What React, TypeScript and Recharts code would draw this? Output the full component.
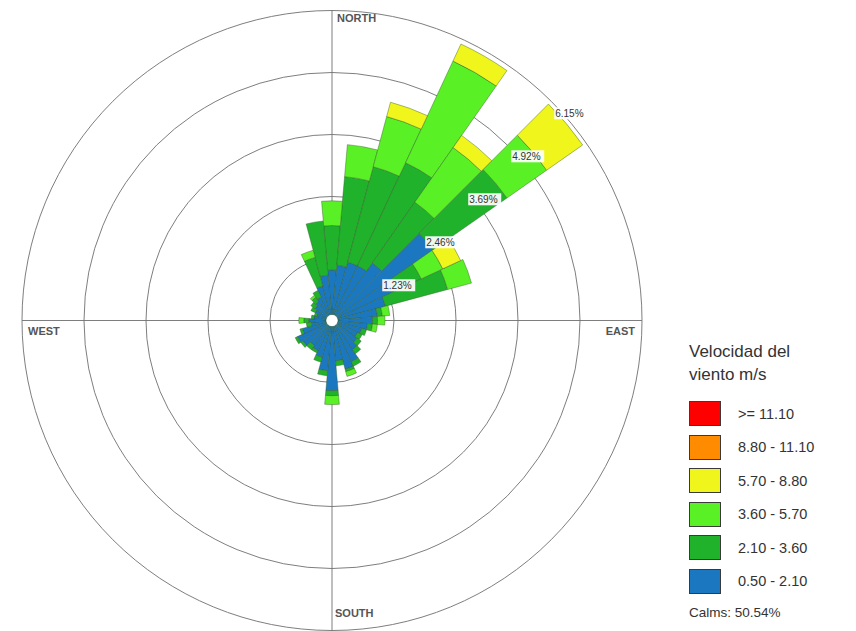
import React from 'react';
import {
  RadialBarChart,
  RadialBar,
  PolarGrid,
  PolarAngleAxis,
  PolarRadiusAxis,
  Legend,
  Sector,
} from 'recharts';

// Wind directions (bearing, degrees clockwise from north), 10° sectors
const DIRECTIONS = [
  '0', '10', '20', '30', '40', '50', '60', '70', '80', '90', '100', '110',
  '120', '130', '140', '150', '160', '170', '180', '190', '200', '210', '220', '230',
  '240', '250', '260', '270', '280', '290', '300', '310', '320', '330', '340', '350',
];

// Frequency (%) contributed by each speed class, per direction
const BLUE = [
  0.9, 1.0, 1.1, 1.1, 1.3, 2.37, 1.3, 1.0, 0.8, 0.7, 0.6, 0.5,
  0.45, 0.5, 0.6, 0.8, 0.9, 0.7, 1.3, 0.9, 0.65, 0.55, 0.5, 0.6,
  0.65, 0.5, 0.3, 0.35, 0.25, 0.2, 0.25, 0.3, 0.35, 0.4, 0.6, 0.8,
];
const DARK_GREEN = [
  0.9, 1.8, 2.0, 2.3, 1.5, 1.83, 0.57, 1.3, 0.1, 0.1, 0.1, 0.1,
  0.1, 0.1, 0.1, 0.1, 0.05, 0.1, 0.1, 0.1, 0.1, 0.05, 0.1, 0.05,
  0.05, 0.05, 0.1, 0.1, 0.05, 0.05, 0.1, 0.1, 0.1, 0.15, 0.6, 1.1,
];
const LIGHT_GREEN = [
  0.5, 0.65, 1.05, 2.27, 1.35, 0.98, 0.48, 0.5, 0.15, 0.15, 0.1, 0,
  0, 0, 0, 0, 0.1, 0, 0.18, 0, 0, 0, 0, 0,
  0, 0, 0, 0.1, 0, 0, 0, 0, 0.05, 0, 0.15, 0,
];
const YELLOW = [
  0, 0, 0.3, 0.38, 0.3, 0.89, 0.4, 0, 0, 0, 0, 0,
  0, 0, 0, 0, 0, 0, 0, 0, 0, 0, 0, 0,
  0, 0, 0, 0, 0, 0, 0, 0, 0, 0, 0, 0,
];
const ORANGE = new Array(36).fill(0);
const RED = new Array(36).fill(0);

// Speed classes (legend top→bottom)
const SPEED_LABELS = ['>= 11.10', '8.80 - 11.10', '5.70 - 8.80', '3.60 - 5.70', '2.10 - 3.60', '0.50 - 2.10'];
const SPEED_KEYS = ['red', 'orange', 'yellow', 'lgreen', 'dgreen', 'blue'];
const SPEED_COLORS = ['#ff0000', '#ff8c00', '#f0f51c', '#5af026', '#21b22c', '#1b78c0'];
const LEGEND_TITLE = ['Velocidad del', 'viento m/s'];
const CALMS_LABEL = 'Calms: 50.54%';

const RING_TICKS = [1.23, 2.46, 3.69, 4.92, 6.15];
const CARDINALS: Record<string, string> = { '0': 'NORTH', '90': 'EAST', '180': 'SOUTH', '270': 'WEST' };

const data = DIRECTIONS.map((d, i) => ({
  dir: d,
  blue: BLUE[i],
  dgreen: DARK_GREEN[i],
  lgreen: LIGHT_GREEN[i],
  yellow: YELLOW[i],
  orange: ORANGE[i],
  red: RED[i],
}));

const CX = 332;
const CY = 320.5;
const R = 310;
const HOLE = 6;
const RING_PX = [62, 124, 186, 248, 310];

const colorOf = (key: string) => SPEED_COLORS[SPEED_KEYS.indexOf(key)];
const STACK_ORDER = ['blue', 'dgreen', 'lgreen', 'yellow', 'orange', 'red'];

const PetalShape = (props: any) => {
  if (!props || props.outerRadius - props.innerRadius < 0.3) return <g />;
  return (
    <Sector
      cx={props.cx}
      cy={props.cy}
      innerRadius={props.innerRadius}
      outerRadius={props.outerRadius}
      startAngle={props.startAngle}
      endAngle={props.endAngle}
      fill={props.fill}
      stroke="#2d5a22"
      strokeWidth={0.6}
      strokeOpacity={0.7}
    />
  );
};

const CardinalTick = (props: any) => {
  const v = props?.payload?.value;
  const label = CARDINALS[String(v)];
  if (!label) return <g />;
  const common = { fontSize: 11, fontFamily: 'Liberation Sans, Arial, sans-serif', fontWeight: 700, fill: '#555' };
  if (label === 'NORTH') return <text x={CX + 5} y={CY - R + 11.5} {...common}>{label}</text>;
  if (label === 'EAST') return <text x={CX + R - 7} y={CY + 14.5} textAnchor="end" {...common}>{label}</text>;
  if (label === 'SOUTH') return <text x={CX + 3} y={CY + R - 13.5} {...common}>{label}</text>;
  return <text x={CX - R + 6} y={CY + 14.5} {...common}>{label}</text>;
};

const RingTick = (props: any) => {
  const { x, y, payload } = props;
  const txt = `${Number(payload.value).toFixed(2)}%`;
  return (
    <g>
      <rect x={x + 3} y={y + 6} width={33} height={12} fill="#fff" fillOpacity={0.92} />
      <text x={x + 4} y={y + 15.5} fontSize={10} fontFamily="Liberation Sans, Arial, sans-serif" fill="#333">{txt}</text>
    </g>
  );
};

const renderLegend = () => (
  <div style={{ fontFamily: 'Liberation Sans, Arial, sans-serif', color: '#333' }}>
    <div style={{ fontSize: 17, lineHeight: '23px', marginBottom: 11 }}>
      {LEGEND_TITLE.map((t) => (
        <div key={t}>{t}</div>
      ))}
    </div>
    {SPEED_LABELS.map((lab, i) => (
      <div key={lab} style={{ display: 'flex', alignItems: 'center', height: 33.5 }}>
        <div
          style={{
            width: 32,
            height: 25,
            background: SPEED_COLORS[i],
            border: '1.5px solid #3a3a3a',
            boxSizing: 'border-box',
          }}
        />
        <span style={{ marginLeft: 17, fontSize: 14.5 }}>{lab}</span>
      </div>
    ))}
    <div style={{ fontSize: 13.5, marginTop: 7 }}>{CALMS_LABEL}</div>
  </div>
);

export default function App() {
  return (
    <div style={{ position: 'absolute', left: 0, top: 0, width: 856, height: 631, background: '#fff' }}>
      <RadialBarChart
        width={856}
        height={631}
        data={data}
        layout="centric"
        cx={CX}
        cy={CY}
        innerRadius={HOLE}
        outerRadius={R}
        startAngle={85}
        endAngle={-275}
        barCategoryGap={0}
        margin={{ top: 0, right: 0, bottom: 0, left: 0 }}
      >
        <PolarGrid
          gridType="circle"
          stroke="#6f6f6f"
          strokeWidth={0.9}
          polarAngles={[0, 90, 180, 270]}
          polarRadius={RING_PX}
        />
        <PolarAngleAxis
          dataKey="dir"
          type="category"
          axisLine={false}
          tickLine={false}
          tick={<CardinalTick />}
        />
        <PolarRadiusAxis
          type="number"
          domain={[0, 6.15]}
          ticks={RING_TICKS}
          angle={45}
          axisLine={false}
          tickLine={false}
          tick={<RingTick />}
        />
        {STACK_ORDER.map((k) => (
          <RadialBar
            key={k}
            dataKey={k}
            stackId="w"
            fill={colorOf(k)}
            isAnimationActive={false}
            shape={PetalShape}
          />
        ))}
        <Legend content={renderLegend} wrapperStyle={{ position: 'absolute', left: 689, top: 340, width: 167 }} />
      </RadialBarChart>
    </div>
  );
}
